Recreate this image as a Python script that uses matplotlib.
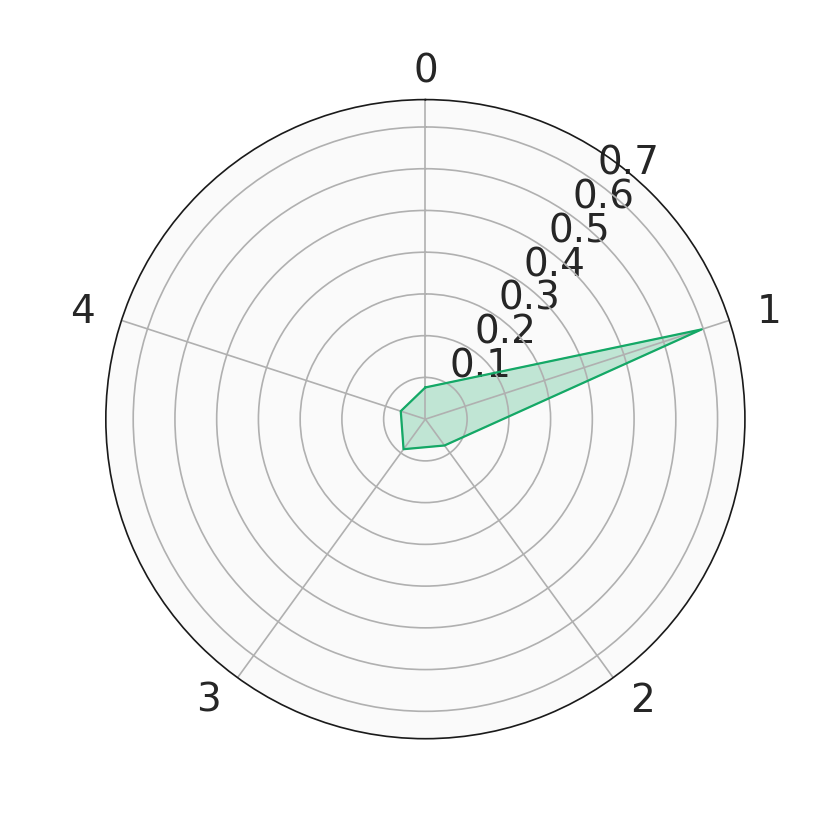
import matplotlib
matplotlib.use("Agg")
import matplotlib.pyplot as plt
import numpy as np

categories = ["0", "1", "2", "3", "4"]
values = [0.076, 0.696, 0.078, 0.089, 0.062]
r_ticks = [0.1, 0.2, 0.3, 0.4, 0.5, 0.6, 0.7]


def main():
    n = len(categories)
    angles = np.linspace(0, 2 * np.pi, n, endpoint=False)
    theta = np.concatenate([angles, angles[:1]])
    r = np.concatenate([values, values[:1]])

    fig = plt.figure(figsize=(8.3, 8.3), dpi=100)
    ax = fig.add_subplot(111, projection="polar")
    ax.set_facecolor("#fafafa")
    ax.set_theta_zero_location("N")
    ax.set_theta_direction(-1)

    ax.plot(theta, r, color="#14a866", lw=1.6)
    ax.fill(theta, r, color="#14a866", alpha=0.25)

    ax.set_xticks(angles)
    ax.set_xticklabels(categories)
    ax.set_yticks(r_ticks)
    ax.set_yticklabels([f"{t:.1f}" for t in r_ticks])
    ax.set_rlabel_position(36)
    ax.set_ylim(0, max(values) * 1.1)
    ax.tick_params(labelsize=28, colors="#262626")
    ax.tick_params(axis="x", pad=10)
    ax.grid(True, color="#b0b0b0", lw=1.2)
    ax.spines["polar"].set_color("#1a1a1a")
    ax.spines["polar"].set_linewidth(1.2)

    # labels on the sides lean outward
    for lab, a in zip(ax.get_xticklabels(), angles):
        s = np.sin(a)
        if s > 0.1:
            lab.set_ha("left")
        elif s < -0.1:
            lab.set_ha("right")

    fig.savefig("out.png", dpi=100)


if __name__ == "__main__":
    main()
